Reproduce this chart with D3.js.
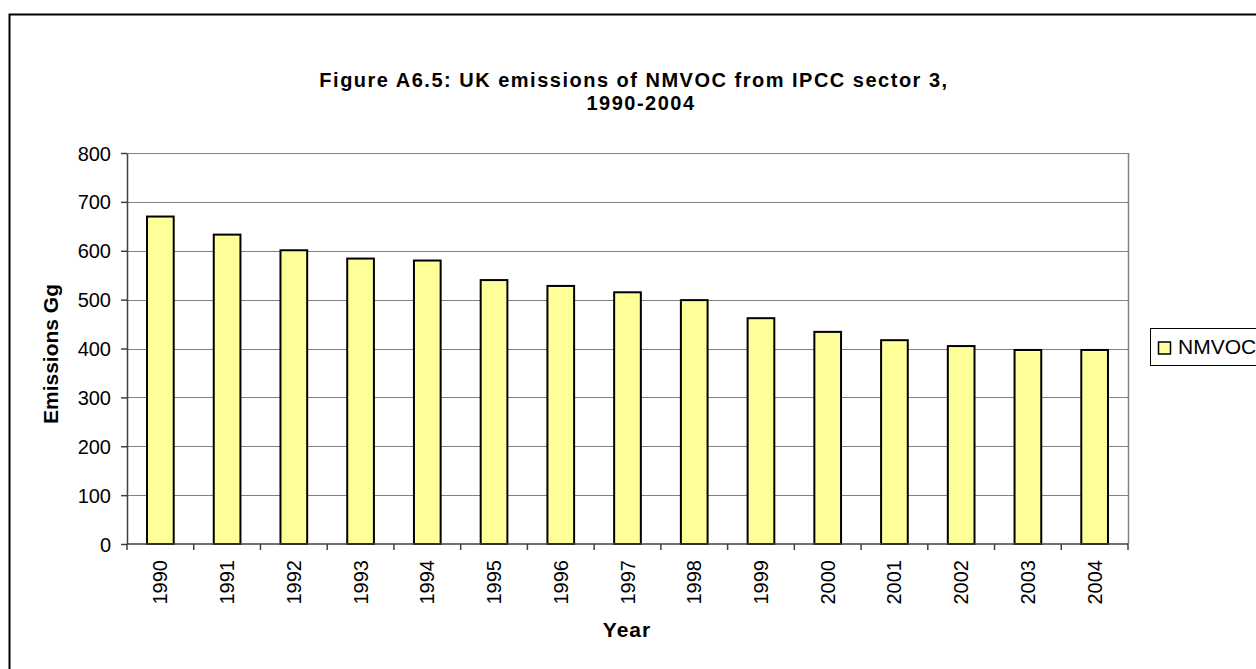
<!doctype html>
<meta charset="utf-8">
<title>UK emissions of NMVOC</title>
<style>
body { margin: 0; background: #fff; }
svg { display: block; font-family: Arial, "Liberation Sans", sans-serif; }
.grid line { stroke: #808080; stroke-width: 1; }
.bar { fill: #ffff99; stroke: #000; stroke-width: 2; }
.axis text { font-size: 20px; fill: #000; }
.axis path, .axis line { stroke: #404040; stroke-width: 1.5; }
</style>
<script src="https://d3js.org/d3.v7.min.js"></script>
<body>
<script>
var years = ["1990","1991","1992","1993","1994","1995","1996","1997","1998","1999","2000","2001","2002","2003","2004"];
var nmvoc = [670, 633, 601, 584, 580, 540, 528, 515, 499, 462, 434, 417, 405, 397, 397];
var yTicks = [0, 100, 200, 300, 400, 500, 600, 700, 800];
var seriesName = "NMVOC";

var width = 1256, height = 669;
var margin = {left: 127, right: 128, top: 153, bottom: 125};

var svg = d3.select("body").append("svg")
    .attr("width", width)
    .attr("height", height);

// outer chart border (runs off the right and bottom edge)
svg.append("rect")
    .attr("x", 9.5).attr("y", 14.5)
    .attr("width", 1300).attr("height", 700)
    .attr("fill", "none").attr("stroke", "#000").attr("stroke-width", 2);

var x = d3.scaleBand()
    .domain(years)
    .range([margin.left, width - margin.right])
    .paddingInner(0.6)
    .paddingOuter(0.3);

var y = d3.scaleLinear()
    .domain([0, 800])
    .range([height - margin.bottom, margin.top]);

// gridlines
svg.append("g").attr("class", "grid")
  .selectAll("line")
  .data(yTicks.slice(1))
  .enter().append("line")
    .attr("x1", margin.left).attr("x2", width - margin.right)
    .attr("y1", function(d) { return Math.round(y(d)) + 0.5; })
    .attr("y2", function(d) { return Math.round(y(d)) + 0.5; });

// plot area right edge
svg.append("line")
    .attr("x1", width - margin.right + 0.5).attr("x2", width - margin.right + 0.5)
    .attr("y1", margin.top).attr("y2", height - margin.bottom)
    .attr("stroke", "#808080").attr("stroke-width", 1.5);

// bars
svg.append("g")
  .selectAll("rect")
  .data(nmvoc)
  .enter().append("rect")
    .attr("class", "bar")
    .attr("x", function(d, i) { return x(years[i]); })
    .attr("width", x.bandwidth())
    .attr("y", function(d) { return y(d); })
    .attr("height", function(d) { return y(0) - y(d); });

// y axis
svg.append("g")
    .attr("class", "axis")
    .attr("transform", "translate(" + margin.left + ",0)")
    .call(d3.axisLeft(y).tickValues(yTicks).tickSize(6).tickSizeOuter(0).tickPadding(10))
    .selectAll("text").attr("dy", "0.35em");

// x axis with ticks between categories
var xAxis = svg.append("g")
    .attr("class", "axis")
    .attr("transform", "translate(0," + y(0) + ")");
xAxis.append("line")
    .attr("x1", margin.left).attr("x2", width - margin.right)
    .attr("y1", 0).attr("y2", 0);
xAxis.selectAll("line.tick")
  .data(d3.range(years.length + 1))
  .enter().append("line")
    .attr("class", "tick")
    .attr("x1", function(i) { return margin.left + i * (width - margin.left - margin.right) / years.length; })
    .attr("x2", function(i) { return margin.left + i * (width - margin.left - margin.right) / years.length; })
    .attr("y1", 0).attr("y2", 6);
xAxis.selectAll("text")
  .data(years)
  .enter().append("text")
    .attr("transform", function(d) {
      return "translate(" + (x(d) + x.bandwidth() / 2 + 7) + ",16) rotate(-90)";
    })
    .attr("text-anchor", "end")
    .text(function(d) { return d; });

// title
var title = svg.append("text")
    .attr("text-anchor", "middle")
    .style("font-size", "20px").style("font-weight", "bold")
    .style("letter-spacing", "1.5px");
title.append("tspan").attr("x", 634).attr("y", 87)
    .text("Figure A6.5: UK emissions of NMVOC from IPCC sector 3,");
title.append("tspan").attr("x", 641).attr("y", 110)
    .text("1990-2004");

// axis titles
svg.append("text")
    .attr("transform", "translate(57.5,354) rotate(-90)")
    .attr("text-anchor", "middle")
    .style("font-size", "21px").style("font-weight", "bold")
    .text("Emissions Gg");
svg.append("text")
    .attr("x", 627).attr("y", 637)
    .attr("text-anchor", "middle")
    .style("font-size", "21px").style("font-weight", "bold")
    .style("letter-spacing", "1px")
    .text("Year");

// legend
var legend = svg.append("g");
legend.append("rect")
    .attr("x", 1150.5).attr("y", 328.5)
    .attr("width", 150).attr("height", 37)
    .attr("fill", "#fff").attr("stroke", "#000").attr("stroke-width", 1);
legend.append("rect")
    .attr("x", 1158.5).attr("y", 342)
    .attr("width", 12).attr("height", 12)
    .attr("fill", "#ffff99").attr("stroke", "#000").attr("stroke-width", 1.5);
legend.append("text")
    .attr("x", 1178).attr("y", 354)
    .style("font-size", "21px")
    .text(seriesName);
</script>
</body>
